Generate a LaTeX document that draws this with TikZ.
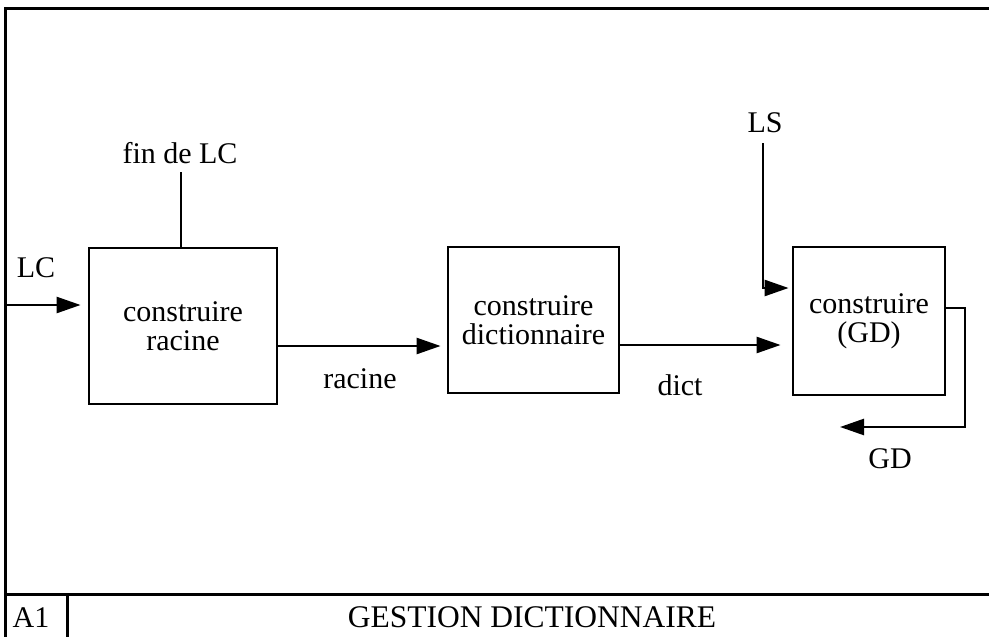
\documentclass[tikz,border=0pt]{standalone}
\usepackage{fontspec}
\setmainfont{Liberation Serif}
\usetikzlibrary{arrows.meta}
\begin{document}
\begin{tikzpicture}[x=1pt,y=-1pt,
  font=\fontsize{30}{29}\selectfont,
  frame/.style={line width=3pt},
  blk/.style={draw, line width=2.8pt, align=center, inner sep=0pt},
  flow/.style={line width=2.5pt},
  arr/.style={flow, -{Triangle[length=24pt,width=16pt]}},
  lbl/.style={anchor=base, inner sep=0pt}]
\useasboundingbox (0,0) rectangle (989,637);

% outer frame and title strip
\draw[frame] (5,637) -- (5,8) -- (989,8);
\draw[frame] (5,594) -- (989,594);
\draw[frame] (67,594) -- (67,637);
\node[lbl] (a1) at (31,627) {A1};
\node[lbl, font=\fontsize{31.5}{32}\selectfont] (title) at (532,627) {GESTION DICTIONNAIRE};

% activity boxes
\node[blk, minimum width=188pt, minimum height=156pt] (b1) at (183,326) {construire\\racine};
\node[blk, minimum width=171pt, minimum height=146pt] (b2) at (533.5,320) {construire\\dictionnaire};
\node[blk, minimum width=152pt, minimum height=148pt] (b3) at (869,321) {construire\\(GD)};

% labels
\node[lbl] (lc) at (36,277) {LC};
\node[lbl] (finlc) at (180,163) {fin de LC};
\node[lbl] (racine) at (360,388) {racine};
\node[lbl] (dict) at (680,395) {dict};
\node[lbl] (ls) at (765,132) {LS};
\node[lbl] (gd) at (890,468) {GD};

% connectors
\coordinate (lcin) at (5,305);
\draw[arr, shorten >=7pt] (lcin) -- (b1.west |- lcin);

\coordinate (fintop) at (181,172);
\draw[flow] (fintop) -- (fintop |- b1.north);

\coordinate (rac) at (0,346);
\draw[arr, shorten >=6pt] (b1.east |- rac) -- (b2.west |- rac);

\coordinate (dc) at (0,345);
\draw[arr, shorten >=11pt] (b2.east |- dc) -- (b3.west |- dc);

\coordinate (lstop) at (763,143);
\coordinate (lsin) at (0,288);
\draw[arr, shorten >=3pt] (lstop) -- (lstop |- lsin) -- (b3.west |- lsin);

\coordinate (gdout) at (0,308);
\coordinate (gdturn) at (965,427);
\coordinate (gdend) at (840,427);
\draw[arr] (b3.east |- gdout) -- (gdturn |- gdout) -- (gdturn) -- (gdend);
\end{tikzpicture}
\end{document}
